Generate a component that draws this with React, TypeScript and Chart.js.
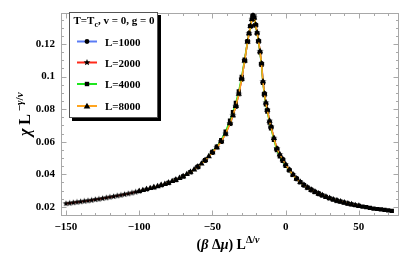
import React, { useEffect, useRef } from 'react';
import { Chart, registerables } from 'chart.js';

Chart.register(...registerables);

// ---- axes ----
const xMin = -153.4;
const xMax = 77.4;
const yMin = 0.0144;
const yMax = 0.1393;
const xMajorTicks = [-150, -100, -50, 0, 50];
const xTickLabels = ['\u2212150', '\u2212100', '\u221250', '0', '50'];
const xMinorTicks = [-150, -140, -130, -120, -110, -100, -90, -80, -70, -60, -50, -40, -30, -20, -10, 0, 10, 20, 30, 40, 50, 60, 70];
const yMajorTicks = [0.02, 0.04, 0.06, 0.08, 0.1, 0.12];
const yTickLabels = ['0.02', '0.04', '0.06', '0.08', '0.1', '0.12'];
const yMinorTicks = [0.015, 0.025, 0.03, 0.035, 0.045, 0.05, 0.055, 0.065, 0.07, 0.075, 0.085, 0.09, 0.095, 0.105, 0.11, 0.115, 0.125, 0.13, 0.135];

// ---- series ----
const seriesLabels = ['L=1000', 'L=2000', 'L=4000', 'L=8000'];
const seriesColors = ['#5b7cf5', '#ff2a1a', '#1ee61e', '#ffa51f'];
const legendTitle = 'T=T';

const x1000 = [-60, -55, -50, -44, -38, -34, -30, -28, -26, -24, -22.3, -20.5, -18.5, -16.5, -14.5, -12.5, -10, -6, -2, 2.5, 7.5, 12.5, 17.5, 22.5];
const y1000 = [0.0446, 0.0486, 0.0535, 0.0602, 0.0712, 0.0818, 0.0985, 0.1098, 0.1215, 0.1310, 0.1375, 0.1318, 0.1220, 0.1080, 0.0895, 0.0795, 0.0692, 0.0558, 0.0492, 0.0428, 0.0373, 0.0334, 0.0304, 0.0281];

const x2000 = [-150, -147.5, -145, -142.5, -140, -137.5, -135, -132.5, -130, -127.5, -125, -122.5, -120, -117.5, -115, -112.5, -110, -107.5, -105, -102.5, -100,
  -95, -90, -85, -80, -75, -70, -65, -60, -55, -50,
  -47, -44, -41, -38, -36, -34, -32, -30, -28, -26,
  -25, -24, -23, -22.3, -21.5, -20.5, -19.5, -18.5, -17.5, -16.5,
  -15.5, -14.5, -13.5, -12.5, -11, -10, -8, -6, -4, -2,
  0, 5, 10, 15, 20, 25, 30, 35];
const y2000 = [0.0220, 0.0223, 0.0226, 0.0229, 0.0232, 0.0235, 0.0238, 0.0241, 0.0245, 0.0248, 0.0252, 0.0256, 0.0260, 0.0264, 0.0268, 0.0272, 0.0277, 0.0281, 0.0286, 0.0291, 0.0296,
  0.0308, 0.0320, 0.0333, 0.0348, 0.0366, 0.0387, 0.0414, 0.0446, 0.0486, 0.0535,
  0.0565, 0.0602, 0.0648, 0.0712, 0.0762, 0.0818, 0.0893, 0.0985, 0.1098, 0.1215,
  0.1265, 0.1310, 0.1352, 0.1375, 0.1362, 0.1318, 0.1270, 0.1220, 0.1155, 0.1080,
  0.0970, 0.0895, 0.0840, 0.0795, 0.0728, 0.0692, 0.0622, 0.0558, 0.0522, 0.0492,
  0.0460, 0.0398, 0.0352, 0.0318, 0.0292, 0.0271, 0.0253, 0.0238];

const x4000 = [-80, -75, -70, -65, -60, -55, -50,
  -47, -44, -41, -38, -36, -34, -32, -30, -28, -26,
  -25, -24, -23, -22.3, -21.5, -20.5, -19.5, -18.5, -17.5, -16.5,
  -15.5, -14.5, -13.5, -12.5, -11, -10, -8, -6, -4, -2,
  0, 2.5, 5, 7.5, 10, 12.5, 15, 17.5, 20, 22.5,
  25, 27.5, 30, 32.5, 35, 37.5, 40, 42.5, 45, 47.5,
  50, 52.5, 55, 57.5, 60, 62.5, 65, 67.5, 70, 72.5];
const y4000 = [0.0348, 0.0366, 0.0387, 0.0414, 0.0446, 0.0487, 0.0538,
  0.0570, 0.0610, 0.0662, 0.0730, 0.0782, 0.0838, 0.0910, 0.0998, 0.1105, 0.1218,
  0.1266, 0.1310, 0.1351, 0.1373, 0.1360, 0.1315, 0.1266, 0.1214, 0.1148, 0.1072,
  0.0962, 0.0886, 0.0830, 0.0785, 0.0718, 0.0682, 0.0612, 0.0548, 0.0510, 0.0482,
  0.0452, 0.0424, 0.0396, 0.0372, 0.0352, 0.0334, 0.0318, 0.0304, 0.0292, 0.0281,
  0.0271, 0.0261, 0.0253, 0.0245, 0.0238, 0.0232, 0.0226, 0.0220, 0.0215, 0.0210,
  0.0206, 0.0202, 0.0198, 0.0194, 0.0190, 0.0187, 0.0184, 0.0181, 0.0178, 0.0176];

const x8000 = [-100, -97.5, -95, -92.5, -90, -87.5, -85, -82.5, -80, -77.5, -75, -72.5, -70, -67.5, -65, -62.5, -60, -57.5, -55, -52.5, -50,
  -47, -44, -41, -38, -36, -34, -32, -30, -28, -26,
  -25, -24, -23, -22.3, -21.5, -20.5, -19.5, -18.5, -17.5, -16.5,
  -15.5, -14.5, -13.5, -12.5, -11, -10, -8, -6, -4, -2,
  0, 2.5, 5, 7.5, 10, 12.5, 15, 17.5, 20, 22.5, 25, 27.5, 30, 32.5, 35, 37.5, 40, 42.5, 45, 47.5, 50];
const y8000 = [0.0296, 0.0302, 0.0308, 0.0314, 0.0320, 0.0326, 0.0333, 0.0340, 0.0348, 0.0357, 0.0366, 0.0376, 0.0387, 0.0400, 0.0414, 0.0429, 0.0446, 0.0465, 0.0486, 0.0510, 0.0535,
  0.0565, 0.0602, 0.0648, 0.0712, 0.0762, 0.0818, 0.0893, 0.0985, 0.1098, 0.1215,
  0.1265, 0.1310, 0.1352, 0.1375, 0.1362, 0.1318, 0.1270, 0.1220, 0.1155, 0.1080,
  0.0970, 0.0895, 0.0840, 0.0795, 0.0728, 0.0692, 0.0622, 0.0558, 0.0522, 0.0492,
  0.0460, 0.0428, 0.0398, 0.0373, 0.0352, 0.0334, 0.0318, 0.0304, 0.0292, 0.0281, 0.0271, 0.0261, 0.0253, 0.0245, 0.0238, 0.0232, 0.0226, 0.0220, 0.0215, 0.0210, 0.0206];

const SERIF = "'Liberation Serif', 'DejaVu Serif', serif";

// ---- marker helpers ----
function starPath(g: CanvasRenderingContext2D, cx: number, cy: number, r: number) {
  g.beginPath();
  for (let i = 0; i < 10; i++) {
    const a = -Math.PI / 2 + (i * Math.PI) / 5;
    const rr = i % 2 === 0 ? r : r * 0.45;
    g.lineTo(cx + rr * Math.cos(a), cy + rr * Math.sin(a));
  }
  g.closePath();
}
function makeStar(r: number) {
  const s = Math.ceil(2 * r + 2);
  const c = document.createElement('canvas');
  c.width = s;
  c.height = s;
  const g = c.getContext('2d')!;
  g.fillStyle = '#000';
  starPath(g, s / 2, s / 2, r);
  g.fill();
  return c;
}
function drawMarker(g: CanvasRenderingContext2D, kind: string, x: number, y: number) {
  g.fillStyle = '#000';
  if (kind === 'circle') {
    g.beginPath();
    g.arc(x, y, 2.4, 0, Math.PI * 2);
    g.fill();
  } else if (kind === 'star') {
    starPath(g, x, y, 3.5);
    g.fill();
  } else if (kind === 'rect') {
    g.fillRect(x - 2.2, y - 2.2, 4.4, 4.4);
  } else {
    g.beginPath();
    g.moveTo(x, y - 3.3);
    g.lineTo(x + 3.3, y + 2.4);
    g.lineTo(x - 3.3, y + 2.4);
    g.closePath();
    g.fill();
  }
}

type Part = { t: string; f: string; dy?: number };
function drawRich(g: CanvasRenderingContext2D, parts: Part[], cx: number, base: number) {
  let w = 0;
  parts.forEach((p) => {
    g.font = p.f;
    w += g.measureText(p.t).width;
  });
  let x = cx - w / 2;
  g.textAlign = 'left';
  g.textBaseline = 'alphabetic';
  parts.forEach((p) => {
    g.font = p.f;
    g.fillText(p.t, x, base + (p.dy || 0));
    x += g.measureText(p.t).width;
  });
}

const B14 = `bold 14px ${SERIF}`;
const BI14 = `italic bold 14px ${SERIF}`;
const B16 = `bold 16px ${SERIF}`;
const BI16 = `italic bold 16px ${SERIF}`;
const B10 = `bold 10px ${SERIF}`;
const BI10 = `italic bold 10px ${SERIF}`;
const B11 = `bold 11px ${SERIF}`;
const BI11 = `italic bold 11px ${SERIF}`;
const B8 = `bold 8px ${SERIF}`;

const markerKinds = ['circle', 'star', 'rect', 'triangle'];

const framePlugin = {
  id: 'mmaFrame',
  beforeDatasetsDraw(chart: any) {
    const { ctx, chartArea: a, scales } = chart;
    const xs = scales.x;
    const ys = scales.y;
    const L = Math.round(a.left) + 0.5;
    const R = Math.round(a.right) - 0.5;
    const T = Math.round(a.top) + 0.5;
    const Bt = Math.round(a.bottom) - 0.5;
    ctx.save();
    ctx.strokeStyle = '#a8a8a8';
    ctx.lineWidth = 1;
    ctx.strokeRect(L, T, R - L, Bt - T);
    ctx.beginPath();
    const xt = (v: number, len: number) => {
      const p = Math.round(xs.getPixelForValue(v)) + 0.5;
      ctx.moveTo(p, Bt);
      ctx.lineTo(p, Bt - len);
      ctx.moveTo(p, T);
      ctx.lineTo(p, T + len);
    };
    const yt = (v: number, len: number) => {
      const p = Math.round(ys.getPixelForValue(v)) + 0.5;
      ctx.moveTo(L, p);
      ctx.lineTo(L + len, p);
      ctx.moveTo(R, p);
      ctx.lineTo(R - len, p);
    };
    xMinorTicks.forEach((v) => xt(v, 2.5));
    xMajorTicks.forEach((v) => xt(v, 5));
    yMinorTicks.forEach((v) => yt(v, 2.5));
    yMajorTicks.forEach((v) => yt(v, 5));
    ctx.stroke();
    ctx.restore();
  },
  afterDraw(chart: any) {
    const { ctx, chartArea: a } = chart;
    ctx.save();
    ctx.fillStyle = '#000';
    // x title
    drawRich(ctx, [
      { t: '(', f: B14 },
      { t: 'β', f: BI14 },
      { t: ' Δ', f: B14 },
      { t: 'μ', f: BI14 },
      { t: ') L', f: B14 },
      { t: 'Δ/', f: B10, dy: -6 },
      { t: 'ν', f: BI10, dy: -6 },
    ], (a.left + a.right) / 2 - 2, 249);
    // y title
    ctx.save();
    ctx.translate(30, (a.top + a.bottom) / 2);
    ctx.rotate(-Math.PI / 2);
    drawRich(ctx, [
      { t: 'χ', f: BI16 },
      { t: ' L', f: B16 },
      { t: ' \u2212', f: B11, dy: -7 },
      { t: 'γ', f: BI11, dy: -7 },
      { t: '/', f: B11, dy: -7 },
      { t: 'ν', f: BI11, dy: -7 },
    ], 0, 0);
    ctx.restore();

    // legend
    const bx = 69.5, by = 12.5, bw = 88, bh = 105;
    ctx.fillStyle = '#000';
    ctx.fillRect(bx + 2.5, by + 2.5, bw + 1, bh + 1);
    ctx.fillStyle = '#fff';
    ctx.fillRect(bx, by, bw, bh);
    ctx.strokeStyle = '#555';
    ctx.lineWidth = 1;
    ctx.strokeRect(bx, by, bw, bh);
    ctx.fillStyle = '#000';
    ctx.textBaseline = 'alphabetic';
    ctx.textAlign = 'left';
    // title "T=Tc, v = 0, g = 0"
    let tx = 73.5;
    const tb = 24;
    ctx.font = B11;
    ctx.fillText(legendTitle, tx, tb);
    tx += ctx.measureText(legendTitle).width;
    ctx.font = B8;
    ctx.fillText('c', tx, tb + 2.5);
    tx += ctx.measureText('c').width;
    ctx.font = B11;
    ctx.fillText(', v = 0, g = 0', tx, tb);
    const rowsY = [41.5, 62.5, 84, 106];
    seriesLabels.forEach((lab, i) => {
      const yy = rowsY[i];
      ctx.strokeStyle = seriesColors[i];
      ctx.lineWidth = 2;
      ctx.beginPath();
      ctx.moveTo(77, yy);
      ctx.lineTo(97, yy);
      ctx.stroke();
      drawMarker(ctx, markerKinds[i], 87, yy);
      ctx.fillStyle = '#000';
      ctx.font = B11;
      ctx.fillText(lab, 105, yy + 4);
    });
    ctx.restore();
  },
};

function pts(xs: number[], ys: number[]) {
  return xs.map((x, i) => ({ x, y: ys[i] }));
}

export default function App() {
  const ref = useRef<HTMLCanvasElement | null>(null);
  useEffect(() => {
    if (!ref.current) return;
    const star = makeStar(3.3);
    const common = {
      borderWidth: 1.6,
      pointBackgroundColor: '#000',
      pointBorderColor: '#000',
      pointBorderWidth: 0,
      tension: 0,
      fill: false,
    };
    const chart = new Chart(ref.current, {
      type: 'line',
      data: {
        datasets: [
          { ...common, label: seriesLabels[0], data: pts(x1000, y1000), borderColor: seriesColors[0], pointStyle: 'circle', pointRadius: 2.6, order: 4 },
          { ...common, label: seriesLabels[1], data: pts(x2000, y2000), borderColor: seriesColors[1], pointStyle: star as any, pointRadius: 3.3, order: 3 },
          { ...common, label: seriesLabels[2], data: pts(x4000, y4000), borderColor: seriesColors[2], pointStyle: 'rect', pointRadius: 3, order: 2 },
          { ...common, label: seriesLabels[3], data: pts(x8000, y8000), borderColor: seriesColors[3], pointStyle: 'triangle', pointRadius: 3.6, order: 1 },
        ] as any,
      },
      options: {
        responsive: false,
        animation: false,
        devicePixelRatio: 1,
        layout: { padding: { left: 0, top: 7, right: 16, bottom: 0 } },
        plugins: { legend: { display: false }, tooltip: { enabled: false } },
        scales: {
          x: {
            type: 'linear',
            min: xMin,
            max: xMax,
            grid: { display: false, drawTicks: false },
            border: { display: false },
            ticks: {
              color: '#000',
              padding: 5,
              maxRotation: 0,
              autoSkip: false,
              font: { family: SERIF, size: 11, weight: 'bold' },
              callback: (_v: any, i: number) => xTickLabels[i],
            },
            afterBuildTicks: (s: any) => {
              s.ticks = xMajorTicks.map((v) => ({ value: v }));
            },
            afterFit: (s: any) => {
              s.height = 41;
            },
          },
          y: {
            type: 'linear',
            min: yMin,
            max: yMax,
            grid: { display: false, drawTicks: false },
            border: { display: false },
            ticks: {
              color: '#000',
              padding: 6,
              autoSkip: false,
              font: { family: SERIF, size: 11, weight: 'bold' },
              callback: (_v: any, i: number) => yTickLabels[i],
            },
            afterBuildTicks: (s: any) => {
              s.ticks = yMajorTicks.map((v) => ({ value: v }));
            },
            afterFit: (s: any) => {
              s.width = 61;
            },
          },
        },
      } as any,
      plugins: [framePlugin],
    });
    return () => chart.destroy();
  }, []);
  return (
    <div style={{ position: 'fixed', left: 0, top: 0, width: 415, height: 257, background: '#fff' }}>
      <canvas ref={ref} width={415} height={257} style={{ display: 'block', width: 415, height: 257 }} />
    </div>
  );
}
